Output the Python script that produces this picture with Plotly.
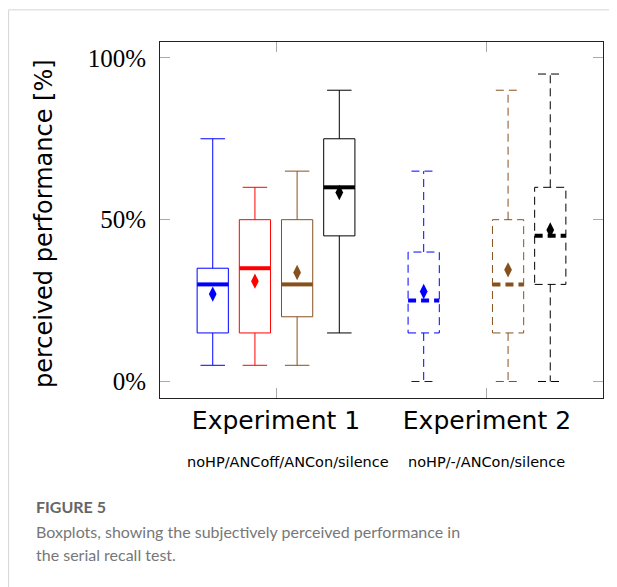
import plotly.graph_objects as go

# ---------------- data ----------------
conditions = ["noHP", "ANCoff", "ANCon", "silence"]
group_labels = ["Experiment 1", "Experiment 2"]
group_sublabels = ["noHP/ANCoff/ANCon/silence", "noHP/-/ANCon/silence"]

# Experiment 1 (all four conditions)
exp1_cond = ["noHP", "ANCoff", "ANCon", "silence"]
exp1_lower = [5, 5, 5, 15]
exp1_q1 = [15, 15, 20, 45]
exp1_median = [30, 35, 30, 60]
exp1_q3 = [35, 50, 50, 75]
exp1_upper = [75, 60, 65, 90]
exp1_mean = [27.0, 31.0, 33.7, 58.4]

# Experiment 2 (no ANCoff condition)
exp2_cond = ["noHP", "ANCon", "silence"]
exp2_lower = [0, 0, 0]
exp2_q1 = [15, 15, 30]
exp2_median = [25, 30, 45]
exp2_q3 = [40, 50, 60]
exp2_upper = [65, 90, 95]
exp2_mean = [27.8, 34.5, 46.8]

y_tickvals = [0, 50, 100]
y_ticktext = ["0%", "50%", "100%"]

# ---------------- styling ----------------
colors = {"noHP": "#0000FF", "ANCoff": "#FF0000", "ANCon": "#87511E", "silence": "#000000"}
group_offset = [0, 5]
box_w = 0.74
cap_w = 0.58

# page has an 8px body margin; positions below are page pixels
OFF = 8
W, H = 617 - OFF, 587 - OFF
L, R, T, B = 160 - OFF, 603.3 - OFF, 41.7 - OFF, 398.3 - OFF


def px(x):
    return (x - OFF - L) / (R - L)


def py(y):
    return (B - (y - OFF)) / (B - T)


fig = go.Figure()


def add_box(pos, lo, q1, med, q3, hi, mean, color, dash):
    hb = box_w / 2
    hc = cap_w / 2
    xs = [pos - hb, pos + hb, pos + hb, pos - hb, pos - hb, None,
          pos, pos, None, pos - hc, pos + hc, None,
          pos, pos, None, pos - hc, pos + hc]
    ys = [q1, q1, q3, q3, q1, None,
          q3, hi, None, hi, hi, None,
          q1, lo, None, lo, lo]
    fig.add_trace(go.Scatter(x=xs, y=ys, mode="lines",
                             line=dict(color=color, width=1, dash=dash),
                             showlegend=False, hoverinfo="skip"))
    fig.add_trace(go.Scatter(x=[pos - hb, pos + hb], y=[med, med], mode="lines",
                             line=dict(color=color, width=4, dash=dash),
                             showlegend=False, hoverinfo="skip"))
    fig.add_trace(go.Scatter(x=[pos], y=[mean], mode="markers",
                             marker=dict(symbol="diamond-tall", size=11, color=color),
                             showlegend=False, hoverinfo="skip"))


for i, c in enumerate(exp1_cond):
    pos = group_offset[0] + conditions.index(c) + 1
    add_box(pos, exp1_lower[i], exp1_q1[i], exp1_median[i], exp1_q3[i],
            exp1_upper[i], exp1_mean[i], colors[c], "solid")

for i, c in enumerate(exp2_cond):
    pos = group_offset[1] + conditions.index(c) + 1
    add_box(pos, exp2_lower[i], exp2_q1[i], exp2_median[i], exp2_q3[i],
            exp2_upper[i], exp2_mean[i], colors[c], "8px,5px")

group_centers = [group_offset[g] + (len(conditions) + 1) / 2 for g in range(2)]

annotations = [
    dict(text="perceived performance [%]", x=px(44), y=py(224), xref="paper", yref="paper",
         textangle=-90, showarrow=False, font=dict(family="DejaVu Sans", size=24, color="#000"),
         xanchor="center", yanchor="middle"),
    dict(text=group_sublabels[0], x=px(288), y=py(462), xref="paper", yref="paper",
         showarrow=False, font=dict(family="DejaVu Sans", size=14.5, color="#000"),
         xanchor="center", yanchor="middle"),
    dict(text=group_sublabels[1], x=px(487), y=py(462), xref="paper", yref="paper",
         showarrow=False, font=dict(family="DejaVu Sans", size=14.5, color="#000"),
         xanchor="center", yanchor="middle"),
    dict(text="<b>FIGURE 5</b>", x=px(34), y=py(507), xref="paper", yref="paper",
         showarrow=False, font=dict(family="Lato", size=16, color="#666"),
         xanchor="left", yanchor="middle"),
    dict(text="Boxplots, showing the subjectively perceived performance in", x=px(34), y=py(532),
         xref="paper", yref="paper", showarrow=False,
         font=dict(family="Lato", size=16, color="#777"), xanchor="left", yanchor="middle"),
    dict(text="the serial recall test.", x=px(34), y=py(555),
         xref="paper", yref="paper", showarrow=False,
         font=dict(family="Lato", size=16, color="#777"), xanchor="left", yanchor="middle"),
]

shapes = [
    dict(type="line", xref="paper", yref="paper", x0=px(8.5), x1=px(617 + 5), y0=py(9.5), y1=py(9.5),
         line=dict(color="#d5d5d5", width=1)),
    dict(type="line", xref="paper", yref="paper", x0=px(8.5), x1=px(8.5), y0=py(9.5), y1=py(587 + 5),
         line=dict(color="#d5d5d5", width=1)),
]

fig.update_layout(
    width=W, height=H,
    margin=dict(l=L, r=W - R, t=T, b=H - B, pad=0),
    paper_bgcolor="white", plot_bgcolor="white",
    annotations=annotations, shapes=shapes,
    xaxis=dict(range=[-0.25, 10.25], tickvals=group_centers, ticktext=group_labels,
               showline=True, linecolor="#222", linewidth=1, mirror="ticks",
               ticks="inside", ticklen=10, tickcolor="#aaa", tickwidth=1,
               showgrid=False, zeroline=False,
               tickfont=dict(family="DejaVu Sans", size=25, color="#000")),
    yaxis=dict(range=[-5.1, 104.9], tickvals=y_tickvals, ticktext=y_ticktext,
               showline=True, linecolor="#222", linewidth=1, mirror="ticks",
               ticks="inside", ticklen=10, tickcolor="#aaa", tickwidth=1,
               showgrid=False, zeroline=False, ticklabelstandoff=8,
               tickfont=dict(family="Liberation Serif", size=25, color="#000")),
)

fig.write_html("out.html")
